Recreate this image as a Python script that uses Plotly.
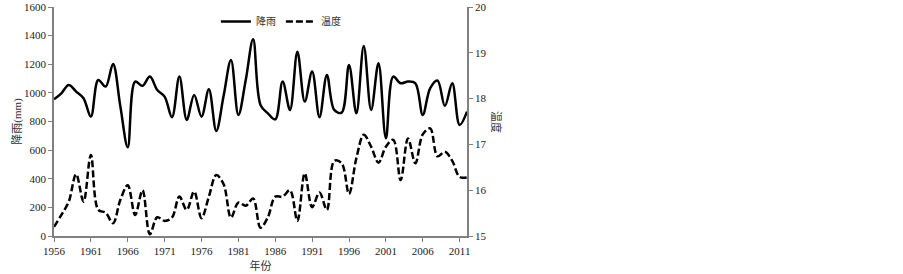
import plotly.graph_objects as go

years = list(range(1956, 2013))
rain = [955, 997, 1055, 1009, 962, 834, 1090, 1044, 1202, 904,
        620, 1079, 1049, 1114, 1020, 974, 830, 1114, 811, 986,
        834, 1025, 734, 980, 1230, 846, 1090, 1375, 916, 857,
        815, 1079, 881, 1288, 939, 1149, 830, 1125, 881, 862,
        1195, 857, 1328, 881, 1207, 683, 1114, 1067, 1079, 1067,
        846, 1032, 1086, 909, 1067, 776, 869]
temp = [15.20, 15.46, 15.75, 16.35, 15.75, 16.77, 15.57, 15.51, 15.28, 15.79,
        16.11, 15.46, 16.00, 15.04, 15.41, 15.33, 15.40, 15.86, 15.57, 15.97,
        15.39, 15.86, 16.33, 16.13, 15.40, 15.73, 15.66, 15.82, 15.18, 15.41,
        15.86, 15.86, 16.00, 15.33, 16.37, 15.63, 15.95, 15.57, 16.64, 16.59,
        15.92, 16.70, 17.21, 16.95, 16.60, 16.95, 17.10, 16.22, 17.13, 16.59,
        17.22, 17.35, 16.74, 16.84, 16.64, 16.29, 16.28]
xticks = list(range(1956, 2012, 5))

serif = "Liberation Serif, Noto Sans CJK SC"
cjk = "Noto Sans CJK SC"
axcol = "#808080"

fig = go.Figure()
fig.add_trace(go.Scatter(x=years, y=rain, name="降雨", mode="lines",
                         line=dict(color="black", width=2.5, shape="spline", smoothing=1.0)))
fig.add_trace(go.Scatter(x=years, y=temp, name="温度", mode="lines", yaxis="y2",
                         line=dict(color="black", width=2.5, shape="spline", smoothing=1.0,
                                   dash="7px,3px")))

fig.update_layout(
    width=903, height=274,
    margin=dict(l=54, r=436, t=7, b=38),
    plot_bgcolor="white", paper_bgcolor="white",
    showlegend=True,
    legend=dict(orientation="h", x=0.392, y=1.0, xanchor="left", yanchor="top",
                font=dict(family=cjk, size=10, color="#333"), bgcolor="rgba(0,0,0,0)",
                tracegroupgap=0, itemwidth=30),
    xaxis=dict(range=[1956, 2012], tickvals=xticks, ticks="outside", ticklen=4,
               tickcolor=axcol, showline=True, linecolor=axcol, linewidth=1.5,
               showgrid=False, zeroline=False, automargin=False,
               tickfont=dict(family=serif, size=11, color="#222"),
               title=dict(text="年份", font=dict(family=cjk, size=11, color="#333"), standoff=3)),
    yaxis=dict(range=[0, 1600], dtick=200, ticks="outside", ticklen=4,
               tickcolor=axcol, showline=True, linecolor=axcol, linewidth=1.5,
               showgrid=False, zeroline=False, automargin=False,
               tickfont=dict(family=serif, size=11, color="#222"),
               title=dict(text="降雨(mm)", font=dict(family=serif, size=11, color="#333"), standoff=0)),
    yaxis2=dict(range=[15, 20], dtick=1, overlaying="y", side="right", ticks="outside", ticklen=4,
                tickcolor=axcol, showline=True, linecolor=axcol, linewidth=1.5,
                showgrid=False, zeroline=False, automargin=False,
                tickfont=dict(family=serif, size=11, color="#222")),
    annotations=[dict(text="温度", xref="paper", yref="paper", x=1.074, y=0.5,
                      xanchor="center", yanchor="middle", showarrow=False, textangle=90,
                      font=dict(family=cjk, size=11, color="#333"))],
)

fig.write_html("out.html", config={"displayModeBar": False},
               post_script="document.body.style.margin='0';")
